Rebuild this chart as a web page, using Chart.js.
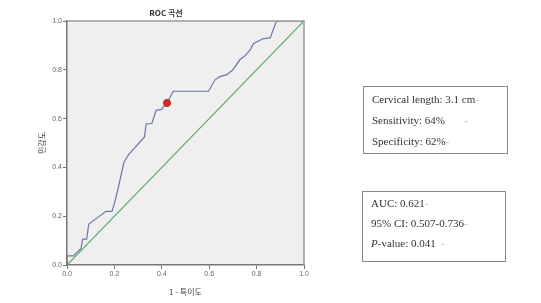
<!DOCTYPE html>
<html>
<head>
<meta charset="utf-8">
<script src="https://cdn.jsdelivr.net/npm/chart.js@4"></script>
<style>
  body { margin: 0; background: #fff; }
  #wrap { position: relative; width: 541px; height: 303px; }
  .box { position: absolute; border: 1px solid #8a8a8a; font-family: "Liberation Serif", serif; font-size: 11px; color: #333; box-sizing: border-box; padding-left: 8px; white-space: nowrap; }
  .mark { color: #bbb; }
</style>
</head>
<body>
<div id="wrap">
  <canvas id="myChart" width="541" height="303"></canvas>
  <div class="box" style="left:363px; top:86px; width:145px; height:68px; line-height:21px; padding-top:2px;">
    <div>Cervical length: 3.1 cm<span class="mark">-</span></div>
    <div>Sensitivity: 64% &nbsp; &nbsp; &nbsp; <span class="mark">-</span></div>
    <div>Specificity: 62%<span class="mark">-</span></div>
  </div>
  <div class="box" style="left:362px; top:191px; width:144px; height:71px; line-height:20px; padding-top:1px;">
    <div>AUC: 0.621<span class="mark">-</span></div>
    <div>95% CI: 0.507-0.736<span class="mark">-</span></div>
    <div><i>P</i>-value: 0.041 &nbsp;<span class="mark">-</span></div>
  </div>
</div>
<script>
// 1 - 특이도 / 민감도 (읽은 값)
const fpr = [0, 0, 0.027, 0.059, 0.066, 0.083, 0.092, 0.123, 0.165, 0.19, 0.2, 0.214, 0.24, 0.26, 0.327, 0.334, 0.358, 0.376, 0.398, 0.422, 0.448, 0.597, 0.625, 0.645, 0.675, 0.7, 0.728, 0.752, 0.775, 0.786, 0.826, 0.858, 0.882, 0.895, 1.0];
const tpr = [0, 0.037, 0.037, 0.068, 0.106, 0.106, 0.168, 0.19, 0.22, 0.22, 0.252, 0.307, 0.42, 0.452, 0.525, 0.578, 0.58, 0.634, 0.638, 0.664, 0.712, 0.712, 0.76, 0.772, 0.78, 0.8, 0.84, 0.858, 0.885, 0.907, 0.927, 0.932, 0.996, 1.0, 1.0];
const diagX = [0, 1];
const diagY = [0, 1];
const cutX = [0.422];
const cutY = [0.664];
const ticks = [0, 0.2, 0.4, 0.6, 0.8, 1.0];

const toPts = (xs, ys) => xs.map((x, i) => ({ x, y: ys[i] }));

const plotBg = {
    id: 'plotBg',
    beforeDraw(chart) {
        const { ctx, chartArea: a } = chart;
        ctx.save();
        ctx.fillStyle = '#efefef';
        ctx.fillRect(a.left, a.top, a.right - a.left, a.bottom - a.top);
        ctx.restore();
    },
    afterDraw(chart) {
        const { ctx, chartArea: a } = chart;
        ctx.save();
        ctx.strokeStyle = '#9a9a9a';
        ctx.lineWidth = 1.5;
        ctx.beginPath();
        ctx.moveTo(a.left, a.top);
        ctx.lineTo(a.right, a.top);
        ctx.lineTo(a.right, a.bottom);
        ctx.stroke();
        // 제목
        ctx.fillStyle = '#333';
        ctx.font = 'bold 8px "Noto Sans CJK KR", sans-serif';
        ctx.textAlign = 'center';
        ctx.textBaseline = 'middle';
        ctx.fillText('ROC 곡선', 166, 13);
        ctx.restore();
    }
};

const ctx = document.getElementById('myChart').getContext('2d');
const myChart = new Chart(ctx, {
    type: 'scatter',
    data: {
        datasets: [
            {
                data: toPts(cutX, cutY),
                pointRadius: 3.5,
                pointBackgroundColor: '#d42a2a',
                pointBorderColor: '#c01818',
                showLine: false
            },
            {
                data: toPts(fpr, tpr),
                showLine: true,
                borderColor: '#6878a8',
                borderWidth: 1.2,
                pointRadius: 0,
                tension: 0
            },
            {
                data: toPts(diagX, diagY),
                showLine: true,
                borderColor: '#5aa865',
                borderWidth: 1.2,
                pointRadius: 0
            }
        ]
    },
    options: {
        responsive: false,
        animation: false,
        devicePixelRatio: 1,
        layout: { padding: { left: 0, right: 237, top: 21, bottom: 0 } },
        plugins: { legend: { display: false }, tooltip: { enabled: false } },
        scales: {
            x: {
                type: 'linear', min: 0, max: 1,
                afterBuildTicks: s => { s.ticks = ticks.map(v => ({ value: v })); },
                afterFit: s => { s.height = 38; },
                ticks: { callback: v => v.toFixed(1), font: { size: 7 }, color: '#666', padding: 1 },
                grid: { drawOnChartArea: false, tickLength: 4, color: '#777' },
                border: { color: '#777', width: 1.5 },
                title: { display: true, text: '1 - 특이도', font: { size: 8, family: '"Noto Sans CJK KR", sans-serif' }, color: '#444', padding: { top: 0, bottom: 6 } }
            },
            y: {
                type: 'linear', min: 0, max: 1,
                afterBuildTicks: s => { s.ticks = ticks.map(v => ({ value: v })); },
                afterFit: s => { s.width = 67; },
                ticks: { callback: v => v.toFixed(1), font: { size: 7 }, color: '#666', padding: 1 },
                grid: { drawOnChartArea: false, tickLength: 4, color: '#777' },
                border: { color: '#777', width: 1.5 },
                title: { display: true, text: '민감도', font: { size: 8, family: '"Noto Sans CJK KR", sans-serif' }, color: '#444', padding: { top: 37, bottom: 0 } }
            }
        }
    },
    plugins: [plotBg]
});
</script>
</body>
</html>
